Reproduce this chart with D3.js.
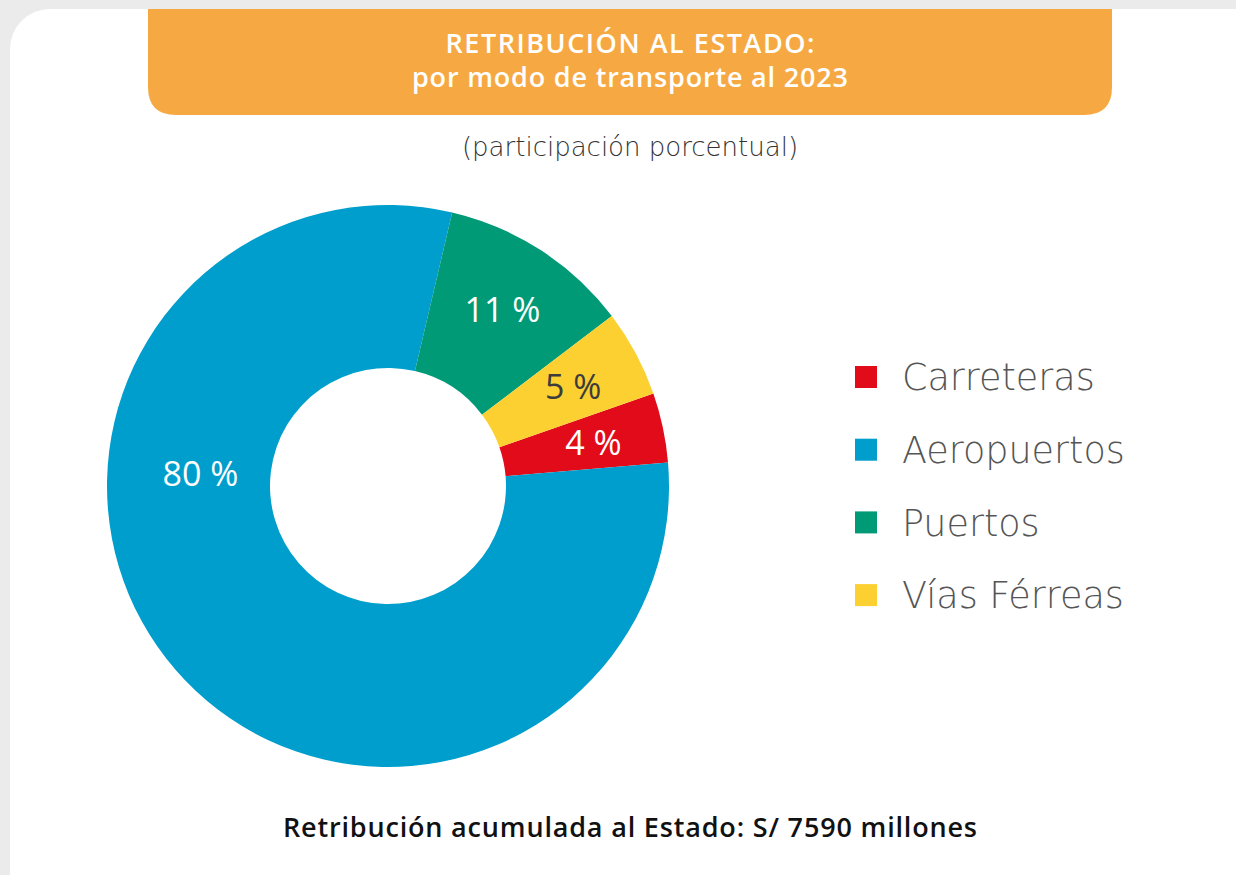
<!DOCTYPE html>
<html>
<head>
<meta charset="utf-8">
<script src="https://cdn.jsdelivr.net/npm/d3@7"></script>
<style>
  body { margin: 0; background: #ebebeb; }
  text { font-family: "Open Sans", Lato, sans-serif; }
  .light { font-family: "DejaVu Sans", sans-serif; font-weight: 200; }
</style>
</head>
<body>
<div id="chart"></div>
<script>
// data
const modes = ["Carreteras", "Aeropuertos", "Puertos", "Vías Férreas"];
const shares = [4, 80, 11, 5];
const colors = ["#e20b19", "#009ecc", "#009a76", "#fcd031"];
const labelColors = ["#ffffff", "#ffffff", "#ffffff", "#3c3c3c"];

const titleLines = ["RETRIBUCIÓN AL ESTADO:", "por modo de transporte al 2023"];
const subtitle = "(participación porcentual)";
const footer = "Retribución acumulada al Estado: S/ 7590 millones";

let width = 1236,
    height = 875;

let svg = d3.select('#chart')
        .append('svg')
        .attr('width', width)
        .attr('height', height)
        .style('display', 'block')

// grey page + white card
svg.append('rect')
    .attr('width', width)
    .attr('height', height)
    .attr('fill', '#ebebeb')

svg.append('rect')
    .attr('x', 10)
    .attr('y', 9)
    .attr('width', 1270)
    .attr('height', 920)
    .attr('rx', 40)
    .attr('fill', '#ffffff')

// orange header, only bottom corners rounded
const hx0 = 148, hx1 = 1112, hy0 = 9, hy1 = 115, hr = 28;
svg.append('path')
    .attr('d', `M${hx0},${hy0} H${hx1} V${hy1 - hr} Q${hx1},${hy1} ${hx1 - hr},${hy1} H${hx0 + hr} Q${hx0},${hy1} ${hx0},${hy1 - hr} Z`)
    .attr('fill', '#f6a942')

const cx = (hx0 + hx1) / 2;
const titleWidths = [369, 436];

// one text, two lines
let title = svg.append('text')
    .attr('text-anchor', 'middle')
    .attr('fill', '#ffffff')
    .style('font-size', '27px')
    .style('font-weight', 600)

title.selectAll('tspan')
    .data(titleLines)
    .enter()
    .append('tspan')
    .attr('x', cx)
    .attr('y', (d, i) => 53 + i * 34)
    .attr('textLength', (d, i) => titleWidths[i])
    .attr('lengthAdjust', 'spacing')
    .text(d => d)

svg.append('text')
    .attr('class', 'light')
    .attr('x', cx)
    .attr('y', 156)
    .attr('text-anchor', 'middle')
    .attr('fill', '#333333')
    .style('font-size', '26px')
    .text(subtitle)

// donut
const center = [388, 486];
const outerR = 281, innerR = 118;

const pie = d3.pie()
    .sort(null)
    .value(d => d.value)
    .startAngle(70.8 * Math.PI / 180)
    .endAngle(70.8 * Math.PI / 180 + 2 * Math.PI)

const data = modes.map((m, i) => ({mode: m, value: shares[i], color: colors[i], labelColor: labelColors[i]}));
const arcs = pie(data);

const arc = d3.arc().innerRadius(innerR).outerRadius(outerR);

let g = svg.append('g')
    .attr('transform', `translate(${center[0]}, ${center[1]})`)

g.selectAll('path')
    .data(arcs)
    .enter()
    .append('path')
    .attr('d', arc)
    .attr('fill', d => d.data.color)

// small slices get their label at the slice middle, the big one sits on the left
const labelPos = function(d) {
    let a, r;
    if (d.endAngle - d.startAngle > Math.PI) {
        a = 1.5 * Math.PI + 0.065; r = 188;
    } else {
        a = (d.startAngle + d.endAngle) / 2; r = 210;
    }
    return [Math.sin(a) * r, -Math.cos(a) * r];
};

g.selectAll('.lbl')
    .data(arcs)
    .enter()
    .append('text')
    .attr('x', d => labelPos(d)[0])
    .attr('y', d => labelPos(d)[1])
    .attr('dy', '0.36em')
    .attr('text-anchor', 'middle')
    .attr('fill', d => d.data.labelColor)
    .style('font-size', '34px')
    .text(d => d.data.value + ' %')

// legend
const legend = svg.append('g')
    .attr('transform', 'translate(855, 377)')

modes.forEach((m, i) => {
    legend.append('rect')
        .attr('x', 0)
        .attr('y', i * 72.7 - 11)
        .attr('width', 22)
        .attr('height', 22)
        .attr('fill', colors[i])
    legend.append('text')
        .attr('class', 'light')
        .attr('x', 47)
        .attr('y', i * 72.7)
        .attr('dy', '0.36em')
        .attr('fill', '#555555')
        .style('font-size', '36.5px')
        .text(m)
});

svg.append('text')
    .attr('x', cx)
    .attr('y', 837)
    .attr('text-anchor', 'middle')
    .attr('textLength', 694)
    .attr('lengthAdjust', 'spacing')
    .attr('fill', '#111111')
    .style('font-size', '27px')
    .style('font-weight', 600)
    .text(footer)
</script>
</body>
</html>
